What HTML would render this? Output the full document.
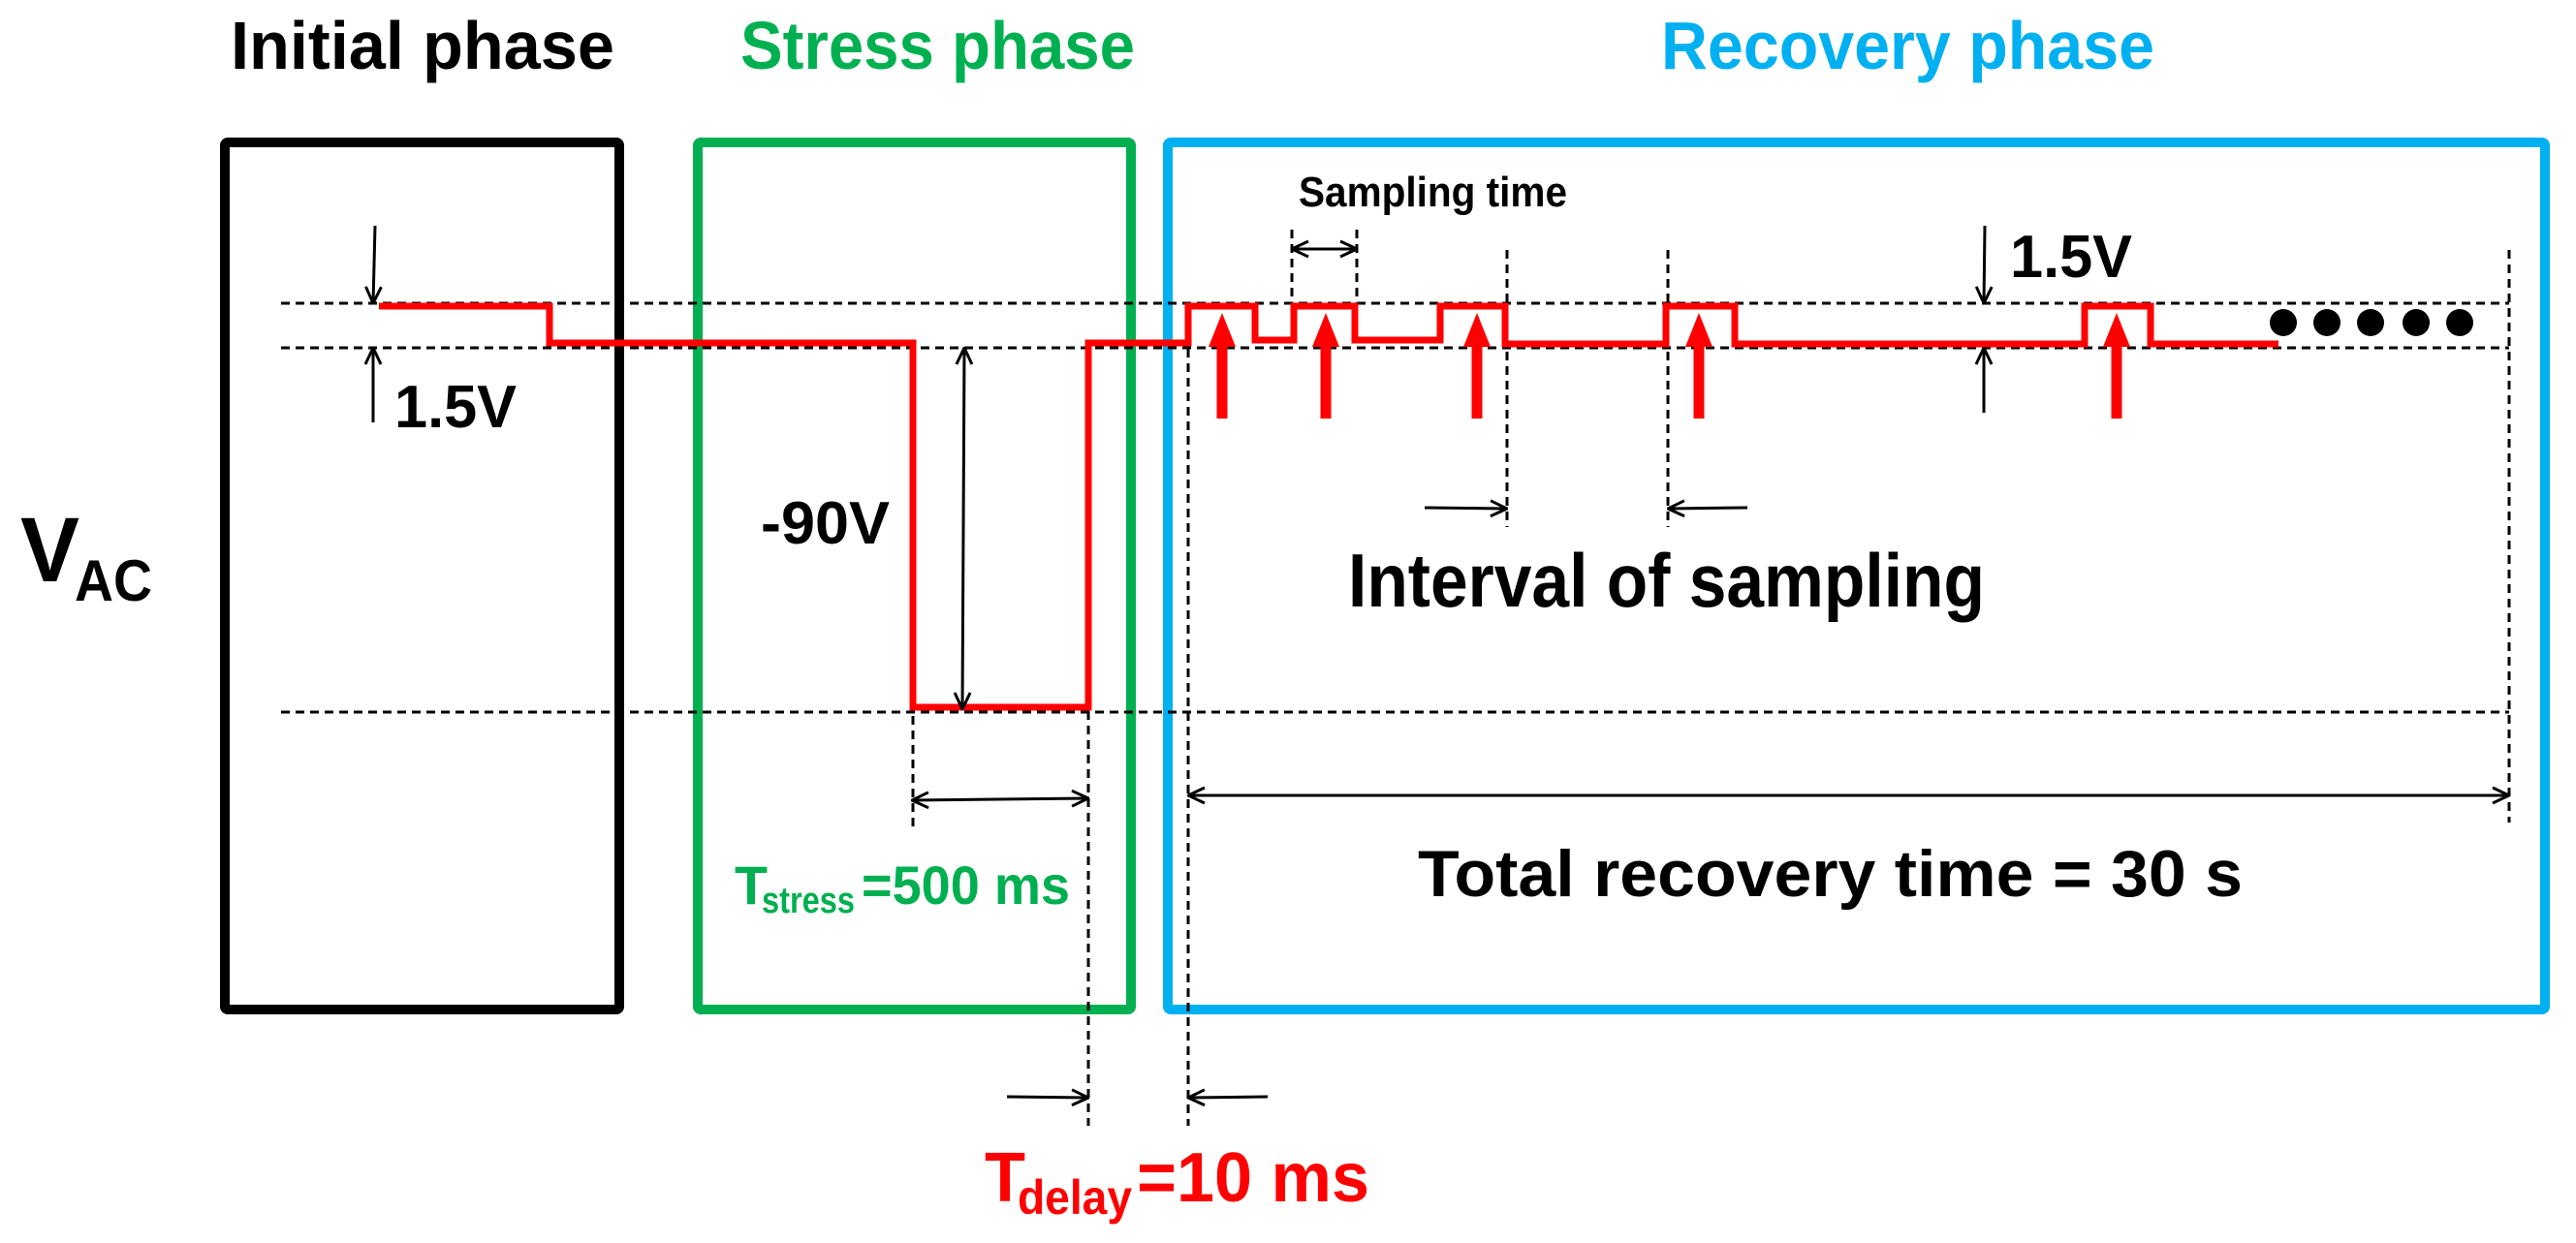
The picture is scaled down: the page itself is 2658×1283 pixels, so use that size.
<!DOCTYPE html>
<html><head><meta charset="utf-8"><style>html,body{margin:0;padding:0;background:#fff}svg{display:block}</style></head>
<body>
<svg width="2658" height="1283" viewBox="0 0 2658 1283" xmlns="http://www.w3.org/2000/svg" font-family="Liberation Sans, sans-serif" font-weight="bold">
<defs>
<marker id="ah" viewBox="0 0 20 20" refX="19" refY="10" markerWidth="20" markerHeight="20" markerUnits="userSpaceOnUse" orient="auto-start-reverse">
<path d="M2,2 L19,10 L2,18" fill="none" stroke="#000" stroke-width="3"/>
</marker>
</defs>
<!-- titles -->
<text x="238" y="71" font-size="70" textLength="396" lengthAdjust="spacingAndGlyphs" fill="#000">Initial phase</text>
<text x="764" y="71" font-size="70" textLength="407" lengthAdjust="spacingAndGlyphs" fill="#00B050">Stress phase</text>
<text x="1714" y="71" font-size="70" textLength="509" lengthAdjust="spacingAndGlyphs" fill="#00B0F0">Recovery phase</text>
<!-- boxes -->
<rect x="232" y="147" width="407" height="895" fill="none" stroke="#000" stroke-width="10" rx="3"/>
<rect x="720" y="147" width="447" height="895" fill="none" stroke="#00B050" stroke-width="10" rx="3"/>
<rect x="1205" y="147" width="1421" height="895" fill="none" stroke="#00B0F0" stroke-width="10" rx="3"/>
<!-- dashed lines -->
<g stroke="#000" stroke-width="3" stroke-dasharray="9 6" fill="none">
<line x1="290" y1="313" x2="2589" y2="313"/>
<line x1="290" y1="359" x2="2589" y2="359"/>
<line x1="290" y1="735" x2="2589" y2="735"/>
<line x1="942" y1="604" x2="942" y2="853"/>
<line x1="1123" y1="359" x2="1123" y2="1162"/>
<line x1="1226" y1="360" x2="1226" y2="1162"/>
<line x1="1333" y1="237" x2="1333" y2="313"/>
<line x1="1400" y1="237" x2="1400" y2="313"/>
<line x1="1555" y1="258" x2="1555" y2="544"/>
<line x1="1721" y1="258" x2="1721" y2="544"/>
<line x1="2589" y1="258" x2="2589" y2="849"/>
</g>
<!-- waveform -->
<path d="M391,316 H567 V354 H942 V730 H1123 V354 H1226 V316 H1295 V351 H1335 V316 H1398 V351 H1486 V316 H1553 V355 H1719 V316 H1790 V355 H2151 V316 H2219 V355 H2351" fill="none" stroke="#FF0000" stroke-width="7"/>
<!-- red arrows -->
<g fill="#FF0000" stroke="#FF0000">
<g id="ra"><line x1="1261" y1="432" x2="1261" y2="350" stroke-width="11"/><polygon points="1261,323 1247,358 1275,358" stroke="none"/></g>
<line x1="1368" y1="432" x2="1368" y2="350" stroke-width="11"/><polygon points="1368,323 1354,358 1382,358" stroke="none"/>
<line x1="1524" y1="432" x2="1524" y2="350" stroke-width="11"/><polygon points="1524,323 1510,358 1538,358" stroke="none"/>
<line x1="1753" y1="432" x2="1753" y2="350" stroke-width="11"/><polygon points="1753,323 1739,358 1767,358" stroke="none"/>
<line x1="2184" y1="432" x2="2184" y2="350" stroke-width="11"/><polygon points="2184,323 2170,358 2198,358" stroke="none"/>
</g>
<!-- dots -->
<g fill="#000"><circle cx="2356" cy="333" r="14"/><circle cx="2401" cy="333" r="14"/><circle cx="2446" cy="333" r="14"/><circle cx="2493" cy="333" r="14"/><circle cx="2538" cy="333" r="14"/></g>
<!-- black arrows -->
<g stroke="#000" stroke-width="3" fill="none">
<line x1="387" y1="233" x2="385" y2="313" marker-end="url(#ah)"/>
<line x1="385" y1="436" x2="385" y2="359" marker-end="url(#ah)"/>
<line x1="995" y1="359" x2="993" y2="732" marker-start="url(#ah)" marker-end="url(#ah)"/>
<line x1="941" y1="826" x2="1123" y2="824" marker-start="url(#ah)" marker-end="url(#ah)"/>
<line x1="1039" y1="1132" x2="1123" y2="1133" marker-end="url(#ah)"/>
<line x1="1308" y1="1132" x2="1226" y2="1133" marker-end="url(#ah)"/>
<line x1="1226" y1="821" x2="2589" y2="821" marker-start="url(#ah)" marker-end="url(#ah)"/>
<line x1="1333" y1="257" x2="1400" y2="257" marker-start="url(#ah)" marker-end="url(#ah)"/>
<line x1="1470" y1="524" x2="1555" y2="525" marker-end="url(#ah)"/>
<line x1="1803" y1="524" x2="1721" y2="525" marker-end="url(#ah)"/>
<line x1="2048" y1="233" x2="2047" y2="313" marker-end="url(#ah)"/>
<line x1="2047" y1="426" x2="2047" y2="359" marker-end="url(#ah)"/>
</g>
<!-- labels -->
<text x="407" y="441" font-size="62" textLength="126" lengthAdjust="spacingAndGlyphs">1.5V</text>
<text x="2074" y="286" font-size="62" textLength="126" lengthAdjust="spacingAndGlyphs">1.5V</text>
<text x="785" y="561" font-size="62" textLength="133" lengthAdjust="spacingAndGlyphs">-90V</text>
<text x="21" y="600" font-size="95" textLength="61" lengthAdjust="spacingAndGlyphs">V</text>
<text x="77" y="620" font-size="60" textLength="80" lengthAdjust="spacingAndGlyphs">AC</text>
<text x="1340" y="213" font-size="44" textLength="277" lengthAdjust="spacingAndGlyphs">Sampling time</text>
<text x="1391" y="626" font-size="78" textLength="657" lengthAdjust="spacingAndGlyphs">Interval of sampling</text>
<text x="1463" y="925" font-size="68" textLength="851" lengthAdjust="spacingAndGlyphs">Total recovery time = 30 s</text>
<g fill="#00B050">
<text x="758" y="933" font-size="56" textLength="34" lengthAdjust="spacingAndGlyphs">T</text>
<text x="786" y="942" font-size="38" textLength="96" lengthAdjust="spacingAndGlyphs">stress</text>
<text x="889" y="933" font-size="56" textLength="215" lengthAdjust="spacingAndGlyphs">=500 ms</text>
</g>
<g fill="#FF0000">
<text x="1016" y="1240" font-size="72" textLength="42" lengthAdjust="spacingAndGlyphs">T</text>
<text x="1050" y="1253" font-size="50" textLength="118" lengthAdjust="spacingAndGlyphs">delay</text>
<text x="1173" y="1240" font-size="72" textLength="240" lengthAdjust="spacingAndGlyphs">=10 ms</text>
</g>
</svg>
</body></html>
